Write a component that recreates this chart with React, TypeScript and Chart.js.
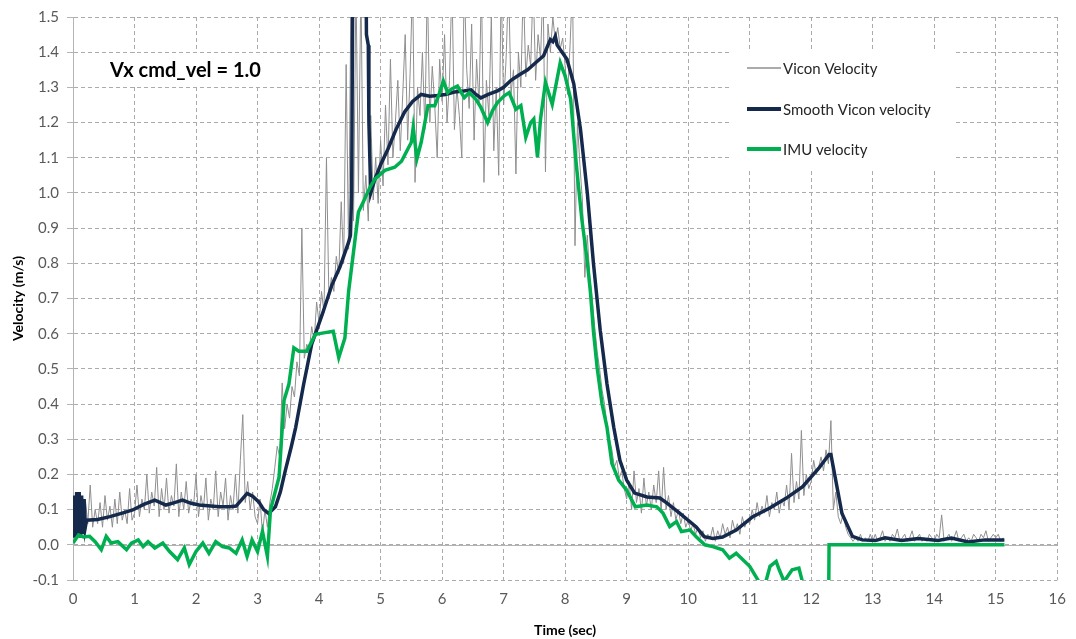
import React, { useEffect, useRef } from 'react';
import { Chart, registerables } from 'chart.js';

Chart.register(...registerables);

// ---------- data ----------
const seriesNames = ['Vicon Velocity', 'Smooth Vicon velocity', 'IMU velocity'];
const annotationText = 'Vx cmd_vel = 1.0';
const xTitle = 'Time (sec)';
const yTitle = 'Velocity (m/s)';

// Raw Vicon velocity, sampled every VICON_STEP seconds starting at 0 (one row per second)
const VICON_STEP = 0.04;
const viconVelocity = [
  0.02, 0.14, 0.03, 0.15, 0.05, 0.13, 0.06, 0.17, 0.05, 0.10, 0.06, 0.12, 0.05, 0.14, 0.07, 0.11, 0.05, 0.13, 0.06, 0.15, 0.07, 0.10, 0.06, 0.16, 0.07,
  0.09, 0.17, 0.08, 0.13, 0.10, 0.20, 0.09, 0.15, 0.11, 0.22, 0.08, 0.16, 0.10, 0.19, 0.09, 0.14, 0.11, 0.23, 0.08, 0.15, 0.10, 0.18, 0.09, 0.13, 0.11,
  0.20, 0.08, 0.14, 0.10, 0.19, 0.07, 0.13, 0.10, 0.21, 0.08, 0.15, 0.11, 0.19, 0.07, 0.14, 0.10, 0.20, 0.09, 0.24, 0.37, 0.12, 0.18, 0.10, 0.15, 0.08,
  0.06, 0.13, 0.03, 0.10, 0.05, 0.12, 0.16, 0.22, 0.28, 0.25, 0.46, 0.33, 0.40, 0.36, 0.45, 0.42, 0.52, 0.48, 0.90, 0.53, 0.57, 0.55, 0.62, 0.58, 0.69,
  0.63, 0.72, 0.66, 1.10, 0.70, 0.76, 0.72, 0.82, 0.77, 0.975, 0.80, 1.365, 0.84, 1.60, 0.92, 1.60, 1.00, 1.60, 0.95, 1.05, 0.92, 1.22, 0.98, 1.10, 0.97,
  1.15, 1.02, 1.25, 1.08, 1.38, 1.10, 1.20, 1.32, 1.12, 1.28, 1.45, 1.15, 1.34, 1.60, 1.03, 1.30, 1.22, 1.40, 1.18, 1.60, 1.20, 1.36, 1.25, 1.10, 1.38,
  1.26, 1.45, 1.20, 1.32, 1.60, 1.18, 1.30, 1.22, 1.10, 1.60, 1.35, 1.24, 1.48, 1.15, 1.38, 1.25, 1.60, 1.03, 1.32, 1.22, 1.50, 1.12, 1.30, 1.05, 1.60,
  1.25, 1.38, 1.60, 1.28, 1.35, 1.054, 1.40, 1.30, 1.60, 1.33, 1.42, 1.36, 1.60, 1.32, 1.45, 1.38, 1.60, 1.06, 1.48, 1.40, 1.50, 1.43, 1.47, 1.41, 1.44,
  1.36, 1.28, 1.42, 1.60, 0.85, 1.20, 1.08, 0.98, 0.76, 0.88, 0.76, 0.70, 0.62, 0.55, 0.50, 0.44, 0.40, 0.34, 0.30, 0.27, 0.22, 0.24, 0.19, 0.21, 0.16,
  0.13, 0.18, 0.10, 0.21, 0.12, 0.16, 0.09, 0.19, 0.11, 0.15, 0.10, 0.17, 0.12, 0.21, 0.09, 0.22, 0.10, 0.14, 0.08, 0.12, 0.07, 0.10, 0.06, 0.09, 0.05,
  0.07, 0.04, 0.06, 0.03, 0.05, 0.02, 0.04, 0.01, 0.03, 0.02, 0.05, 0.01, 0.04, 0.02, 0.06, 0.03, 0.05, 0.02, 0.07, 0.04, 0.06, 0.03, 0.08, 0.05, 0.07,
  0.06, 0.10, 0.07, 0.12, 0.08, 0.11, 0.09, 0.14, 0.08, 0.12, 0.10, 0.15, 0.09, 0.13, 0.11, 0.17, 0.10, 0.26, 0.12, 0.18, 0.13, 0.325, 0.14, 0.20, 0.16,
  0.18, 0.24, 0.20, 0.22, 0.25, 0.21, 0.27, 0.23, 0.353, 0.10, 0.15, 0.08, 0.06, 0.09, 0.05, 0.03, 0.02, 0.01, 0.02, 0.01, 0.03, 0.01, 0.02, 0.01, 0.03,
  0.01, 0.03, 0.01, 0.02, 0.04, 0.01, 0.02, 0.01, 0.03, 0.02, 0.045, 0.01, 0.02, 0.03, 0.01, 0.02, 0.04, 0.01, 0.02, 0.03, 0.01, 0.02, 0.01, 0.03, 0.02,
  0.01, 0.03, 0.02, 0.085, 0.01, 0.02, 0.03, 0.01, 0.02, 0.04, 0.01, 0.02, 0.03, 0.01, 0.02, 0.01, 0.03, 0.02, 0.01, 0.03, 0.02, 0.04, 0.01, 0.02, 0.03,
  0.02, 0.03, 0.01, 0.02,
];

const smoothTime = [
  0.00, 0.02, 0.04, 0.06, 0.08, 0.10, 0.12, 0.14, 0.16, 0.18, 0.20, 0.22, 0.40, 0.60, 0.80, 0.97,
  1.15, 1.33, 1.51, 1.65, 1.78, 1.92, 2.05, 2.38, 2.55, 2.65, 2.75, 2.83, 2.92, 3.02, 3.10, 3.18,
  3.29, 3.37, 3.45, 3.55, 3.62, 3.75, 3.88, 4.05, 4.21, 4.34, 4.48, 4.51, 4.53, 4.55, 4.76, 4.77,
  4.80, 4.81, 4.84, 4.91, 5.00, 5.12, 5.25, 5.39, 5.52, 5.66, 5.80, 5.93, 6.05, 6.20, 6.35, 6.47,
  6.55, 6.63, 6.75, 6.90, 7.00, 7.12, 7.25, 7.39, 7.52, 7.65, 7.72, 7.76, 7.80, 7.84, 7.87, 7.95,
  8.03, 8.14, 8.25, 8.36, 8.46, 8.57, 8.68, 8.79, 8.89, 9.00, 9.13, 9.33, 9.54, 9.65, 9.86, 10.13,
  10.26, 10.40, 10.56, 10.78, 11.05, 11.32, 11.59, 11.86, 12.12, 12.29, 12.32, 12.50, 12.67, 12.83,
  13.04, 13.20, 13.47, 13.74, 14.06, 14.28, 14.55, 14.82, 15.14,
];
const smoothVel = [
  0.02, 0.14, 0.02, 0.15, 0.03, 0.15, 0.02, 0.14, 0.03, 0.13, 0.05, 0.07, 0.072, 0.08, 0.09, 0.099,
  0.115, 0.127, 0.113, 0.12, 0.127, 0.118, 0.113, 0.108, 0.108, 0.11, 0.13, 0.146, 0.138, 0.122, 0.10, 0.089,
  0.108, 0.15, 0.21, 0.28, 0.334, 0.457, 0.57, 0.654, 0.739, 0.79, 0.86, 0.88, 1.0, 1.7, 1.7, 1.45,
  1.42, 1.2, 1.0, 1.04, 1.08, 1.125, 1.18, 1.23, 1.26, 1.28, 1.275, 1.277, 1.28, 1.287, 1.29, 1.293,
  1.28, 1.27, 1.28, 1.29, 1.30, 1.32, 1.335, 1.35, 1.37, 1.39, 1.42, 1.436, 1.43, 1.445, 1.42, 1.40,
  1.38, 1.31, 1.18, 1.0, 0.80, 0.61, 0.457, 0.334, 0.24, 0.184, 0.147, 0.136, 0.133, 0.119, 0.09, 0.051,
  0.023, 0.018, 0.022, 0.042, 0.08, 0.104, 0.132, 0.165, 0.217, 0.257, 0.257, 0.089, 0.024, 0.014,
  0.012, 0.02, 0.012, 0.018, 0.012, 0.019, 0.008, 0.014, 0.014,
];

const imuTime = [
  0.00, 0.09, 0.17, 0.27, 0.36, 0.46, 0.54, 0.62, 0.73, 0.87, 0.95, 1.06, 1.14, 1.22, 1.33, 1.46,
  1.57, 1.70, 1.81, 1.89, 2.00, 2.11, 2.21, 2.32, 2.43, 2.54, 2.65, 2.75, 2.83, 2.91, 3.00, 3.08,
  3.16, 3.21, 3.35, 3.43, 3.51, 3.59, 3.67, 3.80, 3.94, 4.10, 4.23, 4.32, 4.42, 4.48, 4.56, 4.64,
  4.72, 4.83, 4.91, 5.07, 5.23, 5.34, 5.50, 5.53, 5.59, 5.66, 5.77, 5.88, 5.96, 6.02, 6.09, 6.15,
  6.25, 6.36, 6.44, 6.55, 6.63, 6.74, 6.82, 6.90, 7.01, 7.09, 7.20, 7.28, 7.36, 7.44, 7.49, 7.55,
  7.60, 7.68, 7.79, 7.92, 8.00, 8.09, 8.17, 8.27, 8.36, 8.41, 8.46, 8.52, 8.60, 8.68, 8.76, 8.87,
  9.00, 9.14, 9.33, 9.49, 9.59, 9.70, 9.81, 9.89, 10.03, 10.13, 10.27, 10.40, 10.56, 10.67, 10.78, 11.00,
  11.13, 11.20, 11.27, 11.33, 11.43, 11.48, 11.56, 11.69, 11.80, 11.86, 11.90, 12.28, 12.29, 15.14,
];
const imuVel = [
  0.005, 0.028, 0.022, 0.024, 0.009, -0.014, 0.024, 0.005, 0.009, -0.014, 0.005, 0.014, -0.005, 0.009, -0.009, 0.005,
  -0.019, -0.042, -0.009, -0.056, -0.019, 0.005, -0.024, 0.009, -0.005, -0.009, -0.024, 0.014, -0.033, 0.014, -0.019, 0.038,
  -0.033, 0.099, 0.193, 0.41, 0.457, 0.56, 0.55, 0.55, 0.598, 0.603, 0.607, 0.532, 0.588, 0.72, 0.833, 0.946,
  0.975, 1.017, 1.04, 1.064, 1.073, 1.09, 1.144, 1.186, 1.097, 1.144, 1.248, 1.248, 1.285, 1.318, 1.285, 1.295,
  1.304, 1.271, 1.285, 1.266, 1.243, 1.2, 1.234, 1.257, 1.276, 1.285, 1.238, 1.248, 1.158, 1.2, 1.21, 1.102,
  1.21, 1.314, 1.252, 1.37, 1.332, 1.266, 1.1, 0.927, 0.805, 0.72, 0.607, 0.504, 0.40, 0.334, 0.231, 0.184,
  0.155, 0.108, 0.113, 0.108, 0.09, 0.052, 0.066, 0.038, 0.042, 0.023, 0.0, -0.005, -0.014, -0.038, -0.024, -0.061,
  -0.099, -0.12, -0.10, -0.061, -0.047, -0.071, -0.104, -0.071, -0.066, -0.107, -0.25, -0.25, 0.0, 0.0,
];

const X_MIN = 0;
const X_MAX = 16;
const Y_MIN = -0.1;
const Y_MAX = 1.5;

const COLORS = { vicon: '#8f8f8f', smooth: '#14294b', imu: '#00b050' };
const FONT = 'Lato, "Liberation Sans", sans-serif';

const overlayPlugin = {
  id: 'overlay',
  beforeDatasetsDraw(chart: any) {
    const { ctx, chartArea, scales } = chart;
    const y0 = scales.y.getPixelForValue(0);
    ctx.save();
    ctx.strokeStyle = '#b4b4b4';
    ctx.lineWidth = 1;
    ctx.beginPath();
    ctx.moveTo(chartArea.left, Math.round(y0) + 0.5);
    ctx.lineTo(chartArea.right, Math.round(y0) + 0.5);
    ctx.stroke();

    // annotation box
    ctx.fillStyle = '#ffffff';
    ctx.fillRect(100, 53, 177, 34);
    ctx.fillStyle = '#000000';
    ctx.font = `bold 20px ${FONT}`;
    ctx.textBaseline = 'middle';
    ctx.textAlign = 'left';
    ctx.fillText(annotationText, 110, 71);

    // legend box
    ctx.fillStyle = '#ffffff';
    ctx.fillRect(729, 49, 226, 121);
    const items = [
      { color: COLORS.vicon, width: 1.5, y: 68 },
      { color: COLORS.smooth, width: 4, y: 109 },
      { color: COLORS.imu, width: 4, y: 149 },
    ];
    items.forEach((it, i) => {
      ctx.strokeStyle = it.color;
      ctx.lineWidth = it.width;
      ctx.beginPath();
      ctx.moveTo(747, it.y);
      ctx.lineTo(781, it.y);
      ctx.stroke();
      ctx.fillStyle = '#262626';
      ctx.font = `15px ${FONT}`;
      ctx.fillText(seriesNames[i], 783, it.y + 1);
    });
    ctx.restore();
  },
};

export default function App() {
  const canvasRef = useRef<HTMLCanvasElement | null>(null);

  useEffect(() => {
    if (!canvasRef.current) return;
    const viconData = viconVelocity.map((v, i) => ({ x: Math.round(i * VICON_STEP * 100) / 100, y: v }));
    const smoothData = smoothTime.map((t, i) => ({ x: t, y: smoothVel[i] }));
    const imuData = imuTime.map((t, i) => ({ x: t, y: imuVel[i] }));

    const chart = new Chart(canvasRef.current, {
      type: 'line',
      data: {
        datasets: [
          {
            label: seriesNames[0], data: viconData, borderColor: COLORS.vicon, borderWidth: 1,
            pointRadius: 0, tension: 0, order: 3, clip: 0,
          },
          {
            label: seriesNames[1], data: smoothData, borderColor: COLORS.smooth, borderWidth: 3.5,
            pointRadius: 0, tension: 0, order: 2, clip: 0,
          },
          {
            label: seriesNames[2], data: imuData, borderColor: COLORS.imu, borderWidth: 3.5,
            pointRadius: 0, tension: 0, order: 1, clip: 0,
          },
        ],
      },
      options: {
        responsive: false,
        animation: false,
        events: [],
        layout: { padding: { left: 10, top: 14, right: 13, bottom: 0 } },
        plugins: { legend: { display: false }, tooltip: { enabled: false } },
        scales: {
          x: {
            type: 'linear', min: X_MIN, max: X_MAX,
            ticks: { stepSize: 1, color: '#595959', font: { family: FONT, size: 15 }, padding: 10, callback: (v: any) => String(v) },
            grid: { color: '#ababab', lineWidth: 1, drawTicks: false },
            border: { display: false, dash: [4, 3] },
            title: { display: true, text: xTitle, color: '#000000', font: { family: FONT, size: 14, weight: 'bold' }, padding: { top: 6, bottom: 0 } },
            afterFit: (s: any) => { s.height = 59; },
          },
          y: {
            type: 'linear', min: Y_MIN, max: Y_MAX,
            ticks: { stepSize: 0.1, color: '#595959', font: { family: FONT, size: 15 }, padding: 8, callback: (v: any) => (Math.round(Number(v) * 10) / 10).toFixed(1) },
            grid: { color: '#ababab', lineWidth: 1, tickLength: 6, tickColor: '#b4b4b4' },
            border: { display: true, color: '#b4b4b4', dash: [4, 3] },
            title: { display: true, text: yTitle, color: '#000000', font: { family: FONT, size: 14, weight: 'bold' }, padding: { top: 0, bottom: 4 } },
            afterFit: (s: any) => { s.width = 63; },
          },
        },
      } as any,
      plugins: [overlayPlugin],
    });
    return () => chart.destroy();
  }, []);

  return (
    <div style={{ position: 'fixed', left: 0, top: 0, width: 1076, height: 639, background: '#ffffff' }}>
      <canvas ref={canvasRef} width={1076} height={639} style={{ width: 1076, height: 639, display: 'block' }} />
    </div>
  );
}
